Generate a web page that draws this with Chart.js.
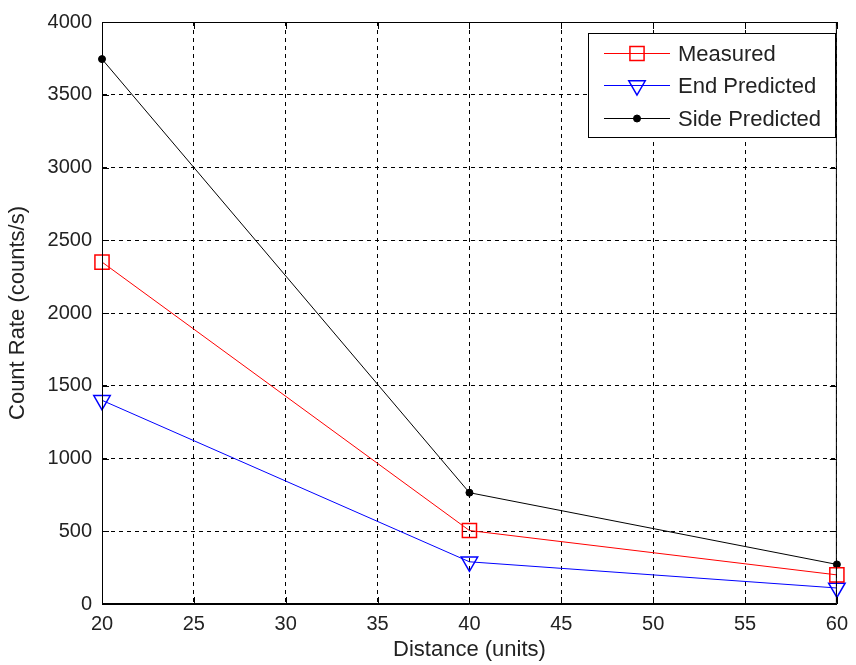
<!DOCTYPE html>
<html lang="en">
<head>
  <meta charset="UTF-8">
  <title>Count Rate vs Distance</title>
  <script src="https://cdn.jsdelivr.net/npm/chart.js@4.4.1/dist/chart.umd.min.js"></script>
  <style>
    html, body { margin: 0; padding: 0; background: #fff; }
    #wrap { width: 856px; height: 665px; }
  </style>
</head>
<body>
  <div id="wrap"><canvas id="plot" width="856" height="665"></canvas></div>
  <script>
    // distances (units) and count rates (counts/s)
    var distances = [20, 40, 60];
    var measured = [2350, 505, 200];
    var endPredicted = [1400, 290, 110];
    var sidePredicted = [3745, 765, 272];

    var xTicks = [20, 25, 30, 35, 40, 45, 50, 55, 60];
    var yTicks = [0, 500, 1000, 1500, 2000, 2500, 3000, 3500, 4000];

    var FONT = '"Liberation Sans", Arial, sans-serif';

    function pairs(ys) {
      return distances.map(function (d, i) { return { x: d, y: ys[i] }; });
    }

    // solid frame + inward tick marks on all four sides
    var boxPlugin = {
      id: 'box',
      afterDatasetsDraw: function (chart) {
        var ctx = chart.ctx, a = chart.chartArea;
        var xs = chart.scales.x, ys = chart.scales.y;
        ctx.save();
        ctx.strokeStyle = '#000';
        ctx.lineWidth = 1;
        ctx.setLineDash([]);
        ctx.strokeRect(a.left + 0.5, a.top + 0.5, a.right - a.left - 1, a.bottom - a.top - 1);
        ctx.beginPath();
        xTicks.forEach(function (v) {
          var px = Math.round(xs.getPixelForValue(v)) + 0.5;
          ctx.moveTo(px, a.bottom); ctx.lineTo(px, a.bottom - 7);
          ctx.moveTo(px, a.top); ctx.lineTo(px, a.top + 7);
        });
        yTicks.forEach(function (v) {
          var py = Math.round(ys.getPixelForValue(v)) + 0.5;
          ctx.moveTo(a.left, py); ctx.lineTo(a.left + 7, py);
          ctx.moveTo(a.right, py); ctx.lineTo(a.right - 7, py);
        });
        ctx.stroke();
        ctx.restore();
      }
    };

    // legend box with line + marker samples
    var legendPlugin = {
      id: 'lineLegend',
      afterDraw: function (chart) {
        var ctx = chart.ctx;
        var bx = 588, by = 33, bw = 247, bh = 104;
        ctx.save();
        ctx.fillStyle = '#fff';
        ctx.fillRect(bx, by, bw, bh);
        ctx.strokeStyle = '#000';
        ctx.lineWidth = 1;
        ctx.strokeRect(bx + 0.5, by + 0.5, bw, bh);
        var rowY = [53, 85, 118];
        chart.data.datasets.forEach(function (ds, i) {
          var y = rowY[i] + 0.5;
          ctx.strokeStyle = ds.borderColor;
          ctx.lineWidth = 1;
          ctx.beginPath();
          ctx.moveTo(604, y); ctx.lineTo(670, y);
          ctx.stroke();
          ctx.fillStyle = ds.pointBackgroundColor;
          ctx.strokeStyle = ds.pointBorderColor;
          ctx.lineWidth = ds.pointBorderWidth;
          Chart.helpers.drawPoint(ctx, {
            pointStyle: ds.pointStyle,
            rotation: ds.pointRotation || 0,
            radius: ds.pointRadius,
            borderWidth: ds.pointBorderWidth
          }, 637, y);
          ctx.fillStyle = '#222';
          ctx.font = '22px ' + FONT;
          ctx.textBaseline = 'middle';
          ctx.fillText(ds.label, 678, y + 1);
        });
        ctx.restore();
      }
    };

    function plain(v) { return String(v); }

    new Chart(document.getElementById('plot').getContext('2d'), {
      type: 'line',
      data: {
        datasets: [{
          label: 'Measured',
          data: pairs(measured),
          borderColor: '#ff0000',
          borderWidth: 1,
          pointStyle: 'rect',
          pointRadius: 10,
          pointBackgroundColor: 'rgba(0,0,0,0)',
          pointBorderColor: '#ff0000',
          pointBorderWidth: 1.5,
          clip: false
        }, {
          label: 'End Predicted',
          data: pairs(endPredicted),
          borderColor: '#0000ff',
          borderWidth: 1,
          pointStyle: 'triangle',
          pointRotation: 180,
          pointRadius: 9.5,
          pointBackgroundColor: 'rgba(0,0,0,0)',
          pointBorderColor: '#0000ff',
          pointBorderWidth: 1.5,
          clip: false
        }, {
          label: 'Side Predicted',
          data: pairs(sidePredicted),
          borderColor: '#000000',
          borderWidth: 1,
          pointStyle: 'circle',
          pointRadius: 3.5,
          pointBackgroundColor: '#000000',
          pointBorderColor: '#000000',
          pointBorderWidth: 1,
          clip: false
        }]
      },
      options: {
        responsive: false,
        animation: false,
        devicePixelRatio: 1,
        layout: { padding: { left: 0, top: 21, right: 14, bottom: 0 } },
        elements: { line: { tension: 0 } },
        plugins: {
          legend: { display: false },
          tooltip: { enabled: false }
        },
        scales: {
          x: {
            type: 'linear',
            min: 20, max: 60,
            afterBuildTicks: function (s) { s.ticks = xTicks.map(function (v) { return { value: v }; }); },
            afterFit: function (s) { s.height = 61; },
            grid: { color: '#000', lineWidth: 1, drawTicks: false },
            border: { display: true, color: '#000', width: 1, dash: [4, 4] },
            ticks: { color: '#222', font: { family: FONT, size: 20 }, padding: 8, maxRotation: 0, callback: plain },
            title: { display: true, text: 'Distance (units)', color: '#222', font: { family: FONT, size: 22 }, padding: { top: 2, bottom: 2 } }
          },
          y: {
            type: 'linear',
            min: 0, max: 4000,
            afterBuildTicks: function (s) { s.ticks = yTicks.map(function (v) { return { value: v }; }); },
            afterFit: function (s) { s.width = 102; },
            grid: { color: '#000', lineWidth: 1, drawTicks: false },
            border: { display: true, color: '#000', width: 1, dash: [4, 4] },
            ticks: { color: '#222', font: { family: FONT, size: 20 }, padding: 10, callback: plain },
            title: { display: true, text: 'Count Rate (counts/s)', color: '#222', font: { family: FONT, size: 22 }, padding: { top: 5, bottom: 0 } }
          }
        }
      },
      plugins: [boxPlugin, legendPlugin]
    });
  </script>
</body>
</html>
